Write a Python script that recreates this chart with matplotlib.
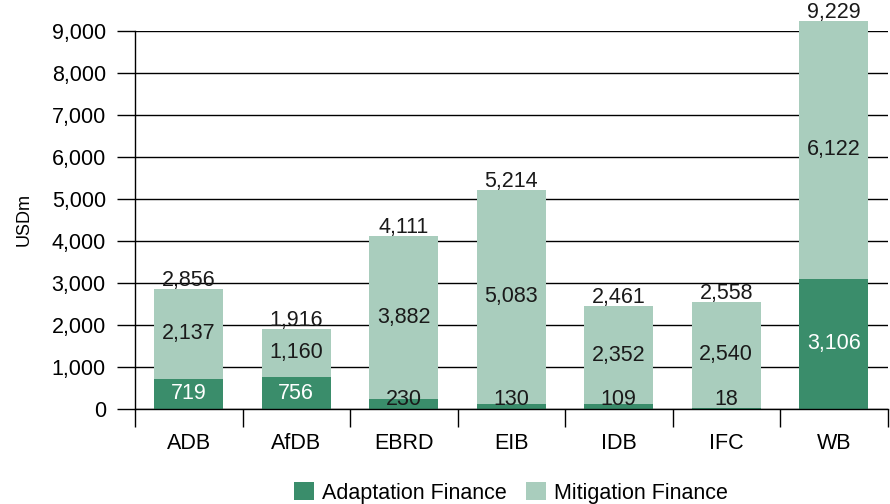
import matplotlib.pyplot as plt
import numpy as np

plt.rcParams['font.family'] = ['Liberation Sans', 'DejaVu Sans']

banks = ["ADB", "AfDB", "EBRD", "EIB", "IDB", "IFC", "WB"]
adaptation = [719, 756, 230, 130, 109, 18, 3106]
mitigation = [2137, 1160, 3882, 5083, 2352, 2540, 6122]
totals = [2856, 1916, 4111, 5214, 2461, 2558, 9229]  # as printed (rounded)
yticks = [0, 1000, 2000, 3000, 4000, 5000, 6000, 7000, 8000, 9000]

DARK = "#3a8d6b"
LIGHT = "#a9cdbd"
FS = 15.5

fig = plt.figure(figsize=(8.9, 5.04), dpi=100)
ax = fig.add_axes([135/890, 95/504, 752.5/890, 378/504])

x = np.arange(len(banks))
adapt = np.array(adaptation)
mitig = np.array(mitigation)

ax.bar(x, adapt, width=0.64, color=DARK, label="Adaptation Finance", clip_on=False)
ax.bar(x, mitig, bottom=adapt, width=0.64, color=LIGHT, label="Mitigation Finance", clip_on=False)

for i in range(len(banks)):
    a, m, t = adapt[i], mitig[i], totals[i]
    if a > 500:
        ax.text(x[i], a / 2, f"{a:,}", ha="center", va="center", color="white", fontsize=FS)
    else:
        ax.text(x[i], 215, f"{a:,}", ha="center", va="center", color="#1a1a1a", fontsize=FS)
    ax.text(x[i], a + m / 2, f"{m:,}", ha="center", va="center", color="#1a1a1a", fontsize=FS)
    ax.text(x[i], a + m + 70, f"{t:,}", ha="center", va="baseline", color="#1a1a1a", fontsize=FS)

ax.set_xlim(-0.5, len(banks) - 0.5)
ax.set_ylim(0, 9000)
ax.set_yticks(yticks)
ax.set_yticklabels([f"{v:,}" for v in yticks], fontsize=FS)
ax.yaxis.grid(True, color="black", linewidth=1)
ax.set_axisbelow(True)

# ticks at the category borders, labels at the centres
ax.set_xticks(np.arange(len(banks) + 1) - 0.5)
ax.set_xticklabels([])
ax.set_xticks(x, minor=True)
ax.set_xticklabels(banks, minor=True, fontsize=FS)
ax.tick_params(axis="x", which="major", length=13, width=1, direction="out")
ax.tick_params(axis="x", which="minor", length=0, pad=17)
ax.tick_params(axis="y", length=13, width=1, direction="out", pad=8)

for s in ["top", "right"]:
    ax.spines[s].set_visible(False)
ax.spines["left"].set_linewidth(1)
ax.spines["bottom"].set_linewidth(1)

ax.set_ylabel("USDm", fontsize=13, labelpad=14)

ax.legend(loc="center", bbox_to_anchor=(0.5, -0.222), ncol=2, frameon=False,
          fontsize=FS, handlelength=0.9, handleheight=0.9, handletextpad=0.4,
          columnspacing=0.9)

fig.savefig("out.png", dpi=100)
